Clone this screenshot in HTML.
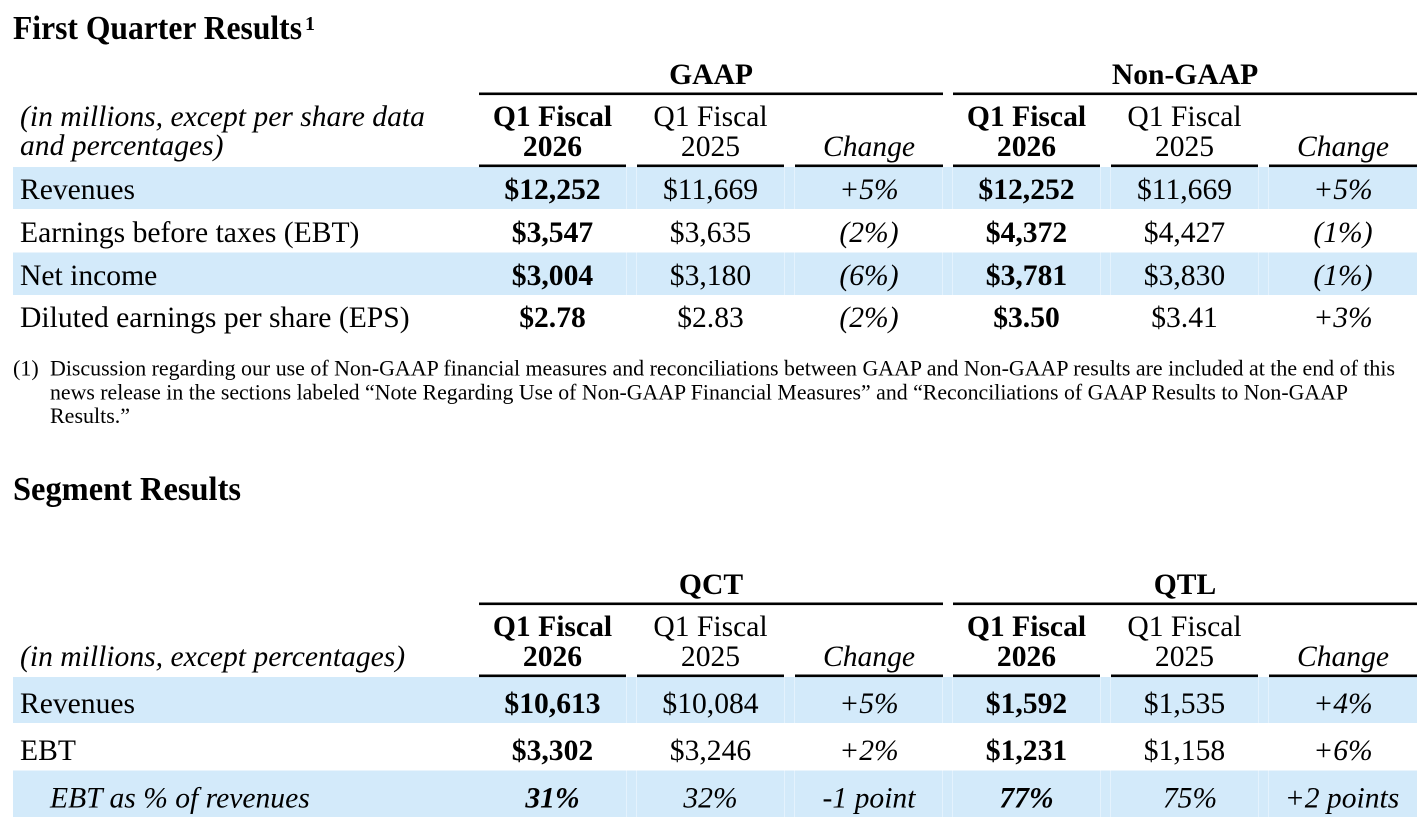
<!DOCTYPE html>
<html>
<head>
<meta charset="utf-8">
<style>
  html, body { margin: 0; padding: 0; background: #ffffff; }
  body { width: 1428px; height: 834px; overflow: hidden; }
  svg { display: block; }
  text { font-family: "Liberation Serif", "Times New Roman", serif; fill: #000; }
  .t { font-size: 29.6px; }
  .b { font-weight: bold; }
  .i { font-style: italic; }
  .fn { font-size: 22px; }
  .h { font-size: 34px; font-weight: bold; }
</style>
</head>
<body>
<svg width="1428" height="834" viewBox="0 0 1428 834" xmlns="http://www.w3.org/2000/svg">
  <rect x="0" y="0" width="1428" height="834" fill="#ffffff"/>

  <!-- ===== Title ===== -->
  <text x="13" y="39" class="h" textLength="289" lengthAdjust="spacingAndGlyphs">First Quarter Results</text>
  <text x="305" y="30" style="font-size:20px;font-weight:bold">1</text>

  <!-- ===== Table 1 bands ===== -->
  <rect x="13" y="167" width="1404" height="42" fill="#d3eafa"/>
  <rect x="13" y="252.5" width="1404" height="42.5" fill="#d3eafa"/>
  <g stroke="#e4f2fd" stroke-width="1">
    <line x1="626.5" y1="167" x2="626.5" y2="209"/><line x1="636.5" y1="167" x2="636.5" y2="209"/>
    <line x1="784.5" y1="167" x2="784.5" y2="209"/><line x1="794.5" y1="167" x2="794.5" y2="209"/>
    <line x1="942.5" y1="167" x2="942.5" y2="209"/><line x1="952.5" y1="167" x2="952.5" y2="209"/>
    <line x1="1100.5" y1="167" x2="1100.5" y2="209"/><line x1="1110.5" y1="167" x2="1110.5" y2="209"/>
    <line x1="1258.5" y1="167" x2="1258.5" y2="209"/><line x1="1268.5" y1="167" x2="1268.5" y2="209"/>
    <line x1="626.5" y1="252.5" x2="626.5" y2="295"/><line x1="636.5" y1="252.5" x2="636.5" y2="295"/>
    <line x1="784.5" y1="252.5" x2="784.5" y2="295"/><line x1="794.5" y1="252.5" x2="794.5" y2="295"/>
    <line x1="942.5" y1="252.5" x2="942.5" y2="295"/><line x1="952.5" y1="252.5" x2="952.5" y2="295"/>
    <line x1="1100.5" y1="252.5" x2="1100.5" y2="295"/><line x1="1110.5" y1="252.5" x2="1110.5" y2="295"/>
    <line x1="1258.5" y1="252.5" x2="1258.5" y2="295"/><line x1="1268.5" y1="252.5" x2="1268.5" y2="295"/>
  </g>

  <!-- Table 1 rules -->
  <rect x="479" y="92.5" width="464" height="2.6" fill="#000"/>
  <rect x="953" y="92.5" width="464" height="2.6" fill="#000"/>
  <rect x="479" y="164.5" width="147" height="2.6" fill="#000"/>
  <rect x="637" y="164.5" width="147" height="2.6" fill="#000"/>
  <rect x="795" y="164.5" width="148" height="2.6" fill="#000"/>
  <rect x="953" y="164.5" width="147" height="2.6" fill="#000"/>
  <rect x="1111" y="164.5" width="147" height="2.6" fill="#000"/>
  <rect x="1269" y="164.5" width="148" height="2.6" fill="#000"/>

  <!-- Table 1 headers -->
  <text x="711" y="84" class="t b" text-anchor="middle">GAAP</text>
  <text x="1185" y="84" class="t b" text-anchor="middle">Non-GAAP</text>

  <text x="20" y="126" class="t i">(in millions, except per share data</text>
  <text x="20" y="155" class="t i">and percentages)</text>

  <text x="552.5" y="126" class="t b" text-anchor="middle">Q1 Fiscal</text>
  <text x="552.5" y="156" class="t b" text-anchor="middle">2026</text>
  <text x="710.5" y="126" class="t" text-anchor="middle">Q1 Fiscal</text>
  <text x="710.5" y="156" class="t" text-anchor="middle">2025</text>
  <text x="869" y="156" class="t i" text-anchor="middle">Change</text>

  <text x="1026.5" y="126" class="t b" text-anchor="middle">Q1 Fiscal</text>
  <text x="1026.5" y="156" class="t b" text-anchor="middle">2026</text>
  <text x="1184.5" y="126" class="t" text-anchor="middle">Q1 Fiscal</text>
  <text x="1184.5" y="156" class="t" text-anchor="middle">2025</text>
  <text x="1343" y="156" class="t i" text-anchor="middle">Change</text>

  <!-- Table 1 rows -->
  <text x="20" y="199" class="t">Revenues</text>
  <text x="552.5" y="199" class="t b" text-anchor="middle">$12,252</text>
  <text x="710.5" y="199" class="t" text-anchor="middle">$11,669</text>
  <text x="869" y="199" class="t i" text-anchor="middle">+5%</text>
  <text x="1026.5" y="199" class="t b" text-anchor="middle">$12,252</text>
  <text x="1184.5" y="199" class="t" text-anchor="middle">$11,669</text>
  <text x="1343" y="199" class="t i" text-anchor="middle">+5%</text>

  <text x="20" y="242" class="t">Earnings before taxes (EBT)</text>
  <text x="552.5" y="242" class="t b" text-anchor="middle">$3,547</text>
  <text x="710.5" y="242" class="t" text-anchor="middle">$3,635</text>
  <text x="869" y="242" class="t i" text-anchor="middle">(2%)</text>
  <text x="1026.5" y="242" class="t b" text-anchor="middle">$4,372</text>
  <text x="1184.5" y="242" class="t" text-anchor="middle">$4,427</text>
  <text x="1343" y="242" class="t i" text-anchor="middle">(1%)</text>

  <text x="20" y="285" class="t">Net income</text>
  <text x="552.5" y="285" class="t b" text-anchor="middle">$3,004</text>
  <text x="710.5" y="285" class="t" text-anchor="middle">$3,180</text>
  <text x="869" y="285" class="t i" text-anchor="middle">(6%)</text>
  <text x="1026.5" y="285" class="t b" text-anchor="middle">$3,781</text>
  <text x="1184.5" y="285" class="t" text-anchor="middle">$3,830</text>
  <text x="1343" y="285" class="t i" text-anchor="middle">(1%)</text>

  <text x="20" y="327" class="t">Diluted earnings per share (EPS)</text>
  <text x="552.5" y="327" class="t b" text-anchor="middle">$2.78</text>
  <text x="710.5" y="327" class="t" text-anchor="middle">$2.83</text>
  <text x="869" y="327" class="t i" text-anchor="middle">(2%)</text>
  <text x="1026.5" y="327" class="t b" text-anchor="middle">$3.50</text>
  <text x="1184.5" y="327" class="t" text-anchor="middle">$3.41</text>
  <text x="1343" y="327" class="t i" text-anchor="middle">+3%</text>

  <!-- ===== Footnote ===== -->
  <text x="13" y="375.5" class="fn">(1)</text>
  <text x="50" y="375.5" class="fn" textLength="1345" lengthAdjust="spacingAndGlyphs">Discussion regarding our use of Non-GAAP financial measures and reconciliations between GAAP and Non-GAAP results are included at the end of this</text>
  <text x="50" y="399.5" class="fn" textLength="1298" lengthAdjust="spacingAndGlyphs">news release in the sections labeled “Note Regarding Use of Non-GAAP Financial Measures” and “Reconciliations of GAAP Results to Non-GAAP</text>
  <text x="50" y="423" class="fn">Results.”</text>

  <!-- ===== Segment Results ===== -->
  <text x="13" y="500" class="h" textLength="228" lengthAdjust="spacingAndGlyphs">Segment Results</text>

  <!-- Table 2 bands -->
  <rect x="13" y="677" width="1404" height="46" fill="#d3eafa"/>
  <rect x="13" y="770.5" width="1404" height="46.5" fill="#d3eafa"/>
  <g stroke="#e4f2fd" stroke-width="1">
    <line x1="626.5" y1="677" x2="626.5" y2="723"/><line x1="636.5" y1="677" x2="636.5" y2="723"/>
    <line x1="784.5" y1="677" x2="784.5" y2="723"/><line x1="794.5" y1="677" x2="794.5" y2="723"/>
    <line x1="942.5" y1="677" x2="942.5" y2="723"/><line x1="952.5" y1="677" x2="952.5" y2="723"/>
    <line x1="1100.5" y1="677" x2="1100.5" y2="723"/><line x1="1110.5" y1="677" x2="1110.5" y2="723"/>
    <line x1="1258.5" y1="677" x2="1258.5" y2="723"/><line x1="1268.5" y1="677" x2="1268.5" y2="723"/>
    <line x1="626.5" y1="770.5" x2="626.5" y2="817"/><line x1="636.5" y1="770.5" x2="636.5" y2="817"/>
    <line x1="784.5" y1="770.5" x2="784.5" y2="817"/><line x1="794.5" y1="770.5" x2="794.5" y2="817"/>
    <line x1="942.5" y1="770.5" x2="942.5" y2="817"/><line x1="952.5" y1="770.5" x2="952.5" y2="817"/>
    <line x1="1100.5" y1="770.5" x2="1100.5" y2="817"/><line x1="1110.5" y1="770.5" x2="1110.5" y2="817"/>
    <line x1="1258.5" y1="770.5" x2="1258.5" y2="817"/><line x1="1268.5" y1="770.5" x2="1268.5" y2="817"/>
  </g>

  <!-- Table 2 rules -->
  <rect x="479" y="602.5" width="464" height="2.6" fill="#000"/>
  <rect x="953" y="602.5" width="464" height="2.6" fill="#000"/>
  <rect x="479" y="674.5" width="147" height="2.6" fill="#000"/>
  <rect x="637" y="674.5" width="147" height="2.6" fill="#000"/>
  <rect x="795" y="674.5" width="148" height="2.6" fill="#000"/>
  <rect x="953" y="674.5" width="147" height="2.6" fill="#000"/>
  <rect x="1111" y="674.5" width="147" height="2.6" fill="#000"/>
  <rect x="1269" y="674.5" width="148" height="2.6" fill="#000"/>

  <!-- Table 2 headers -->
  <text x="711" y="594" class="t b" text-anchor="middle">QCT</text>
  <text x="1185" y="594" class="t b" text-anchor="middle">QTL</text>

  <text x="20" y="666" class="t i">(in millions, except percentages)</text>

  <text x="552.5" y="636" class="t b" text-anchor="middle">Q1 Fiscal</text>
  <text x="552.5" y="666" class="t b" text-anchor="middle">2026</text>
  <text x="710.5" y="636" class="t" text-anchor="middle">Q1 Fiscal</text>
  <text x="710.5" y="666" class="t" text-anchor="middle">2025</text>
  <text x="869" y="666" class="t i" text-anchor="middle">Change</text>

  <text x="1026.5" y="636" class="t b" text-anchor="middle">Q1 Fiscal</text>
  <text x="1026.5" y="666" class="t b" text-anchor="middle">2026</text>
  <text x="1184.5" y="636" class="t" text-anchor="middle">Q1 Fiscal</text>
  <text x="1184.5" y="666" class="t" text-anchor="middle">2025</text>
  <text x="1343" y="666" class="t i" text-anchor="middle">Change</text>

  <!-- Table 2 rows -->
  <text x="20" y="713" class="t">Revenues</text>
  <text x="552.5" y="713" class="t b" text-anchor="middle">$10,613</text>
  <text x="710.5" y="713" class="t" text-anchor="middle">$10,084</text>
  <text x="869" y="713" class="t i" text-anchor="middle">+5%</text>
  <text x="1026.5" y="713" class="t b" text-anchor="middle">$1,592</text>
  <text x="1184.5" y="713" class="t" text-anchor="middle">$1,535</text>
  <text x="1343" y="713" class="t i" text-anchor="middle">+4%</text>

  <text x="20" y="760" class="t">EBT</text>
  <text x="552.5" y="760" class="t b" text-anchor="middle">$3,302</text>
  <text x="710.5" y="760" class="t" text-anchor="middle">$3,246</text>
  <text x="869" y="760" class="t i" text-anchor="middle">+2%</text>
  <text x="1026.5" y="760" class="t b" text-anchor="middle">$1,231</text>
  <text x="1184.5" y="760" class="t" text-anchor="middle">$1,158</text>
  <text x="1343" y="760" class="t i" text-anchor="middle">+6%</text>

  <text x="50" y="807.5" class="t i">EBT as % of revenues</text>
  <text x="552.5" y="807.5" class="t b i" text-anchor="middle">31%</text>
  <text x="710.5" y="807.5" class="t i" text-anchor="middle">32%</text>
  <text x="869" y="807.5" class="t i" text-anchor="middle">-1 point</text>
  <text x="1026.5" y="807.5" class="t b i" text-anchor="middle">77%</text>
  <text x="1190" y="807.5" class="t i" text-anchor="middle">75%</text>
  <text x="1342" y="807.5" class="t i" text-anchor="middle">+2 points</text>
</svg>
</body>
</html>
